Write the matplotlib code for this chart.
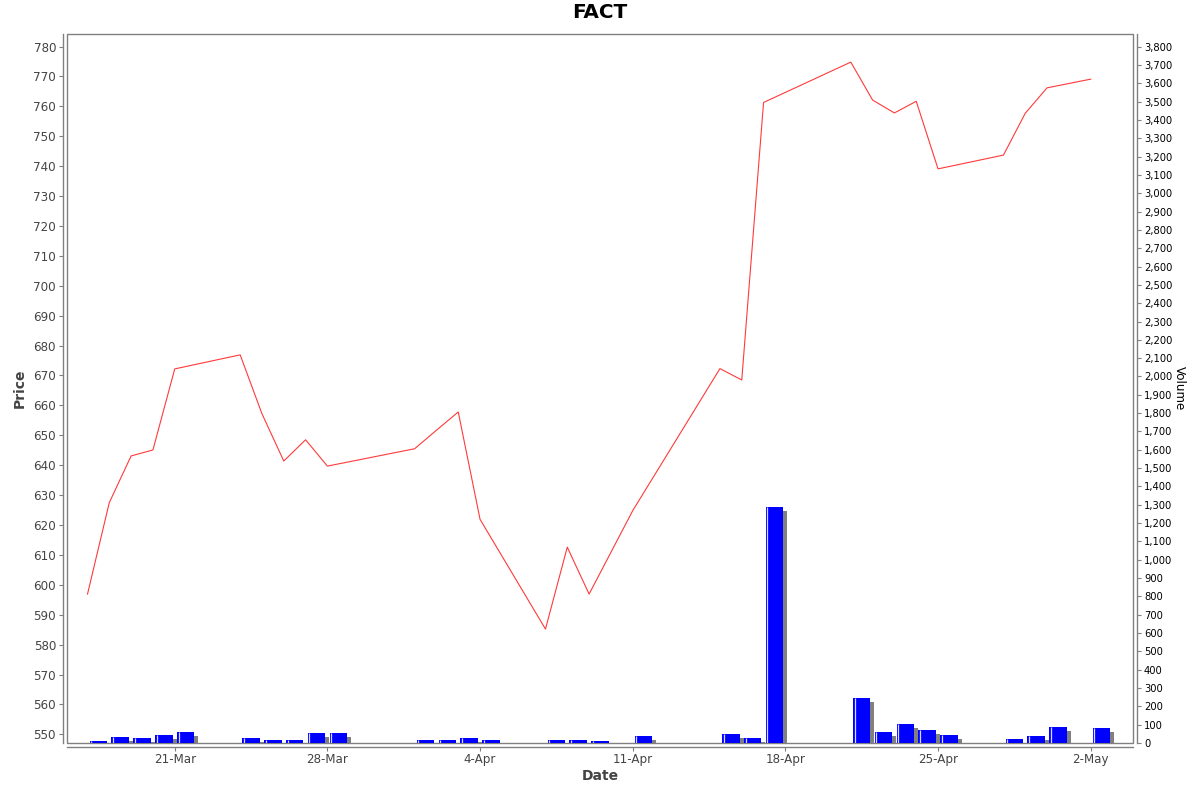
import matplotlib
matplotlib.use('Agg')
import matplotlib.pyplot as plt
import matplotlib.dates as mdates
from matplotlib.patches import Rectangle
from matplotlib.transforms import ScaledTranslation
import pandas as pd

# trading days (year assumed, not shown on chart)
dates = ["2014-03-17", "2014-03-18", "2014-03-19", "2014-03-20", "2014-03-21",
         "2014-03-24", "2014-03-25", "2014-03-26", "2014-03-27", "2014-03-28",
         "2014-04-01", "2014-04-02", "2014-04-03", "2014-04-04",
         "2014-04-07", "2014-04-08", "2014-04-09", "2014-04-11",
         "2014-04-15", "2014-04-16", "2014-04-17",
         "2014-04-21", "2014-04-22", "2014-04-23", "2014-04-24", "2014-04-25",
         "2014-04-28", "2014-04-29", "2014-04-30", "2014-05-02"]
price = [596.9, 627.5, 643.1, 645.1, 672.2,
         676.9, 657.2, 641.4, 648.5, 639.7,
         645.5, 651.7, 657.8, 621.9,
         585.2, 612.6, 596.9, 624.8,
         672.3, 668.5, 761.3,
         774.8, 762.1, 757.8, 761.7, 739.1,
         743.7, 757.7, 766.2, 769.1]
volume = [13, 31, 30, 44, 58,
          26, 19, 15, 55, 55,
          15, 15, 30, 19,
          16, 16, 9, 37,
          48, 30, 1288,
          248, 62, 106, 69, 42,
          24, 37, 86, 80]

title = "FACT"
GRAY = '#808080'
TXT = '#444444'

d = pd.to_datetime(dates)
x = mdates.date2num(d)

fig = plt.figure(figsize=(12, 7.92), dpi=100)
ax = fig.add_axes([67/1200, 1 - 743/792, (1133-67)/1200, (743-34)/792])
ax2 = ax.twinx()

# price line
ax.plot(x, price, color='#ff3a3a', lw=0.8, zorder=3)
ax.set_ylim(547.1, 784.2)
ax.set_xlim(mdates.date2num(pd.Timestamp("2014-03-16")) + 0.06,
            mdates.date2num(pd.Timestamp("2014-05-03")) + 0.94)
ax.set_yticks(range(550, 781, 10))

# volume bars with shadow
shadow = ax2.bar(x + 0.1, volume, width=0.8, align='edge', color=GRAY, lw=0)
off = ScaledTranslation(4/100, -4/100, fig.dpi_scale_trans)
for p in shadow:
    p.set_transform(ax2.transData + off)
ax2.bar(x + 0.1, volume, width=0.8, align='edge', color='#0000ff', lw=0)
ax2.vlines(x + 0.1 + 1.6/21.8, 0, volume, color='#d8d8ff', lw=0.9)
ax2.set_ylim(0, 3869)
ax2.set_yticks(range(0, 3801, 100))
ax2.yaxis.set_major_formatter(matplotlib.ticker.FuncFormatter(lambda v, p: f"{int(v):,}"))

# date ticks
ax.xaxis.set_major_locator(mdates.WeekdayLocator(byweekday=mdates.FR))
ax.xaxis.set_major_formatter(matplotlib.ticker.FuncFormatter(
    lambda v, p: f"{mdates.num2date(v).day}-{mdates.num2date(v).strftime('%b')}"))

# axis styling
for a in (ax, ax2):
    for s in a.spines.values():
        s.set_visible(False)
ax.spines['left'].set_visible(True)
ax.spines['left'].set_position(('outward', 2.9))
ax.spines['bottom'].set_visible(True)
ax.spines['bottom'].set_position(('outward', 2.9))
ax2.spines['right'].set_visible(True)
ax2.spines['right'].set_position(('outward', 2.9))
for s in (ax.spines['left'], ax.spines['bottom'], ax2.spines['right']):
    s.set_color(GRAY)
    s.set_linewidth(1.0)
ax.add_patch(Rectangle((0, 0), 1, 1, transform=ax.transAxes, fill=False,
                       ec=GRAY, lw=1.0, zorder=5, clip_on=False))

ax.tick_params(axis='y', direction='out', length=3, width=0.8, color=GRAY,
               labelsize=8.6, labelcolor=TXT, pad=2)
ax.tick_params(axis='x', direction='out', length=3, width=0.8, color=GRAY,
               labelsize=8.6, labelcolor=TXT, pad=1.5)
ax2.tick_params(axis='y', direction='out', length=3, width=0.8, color=GRAY,
                labelsize=7.2, labelcolor='black', pad=2)

ax.set_ylabel("Price", fontsize=10, fontweight='bold', color=TXT, labelpad=5)
ax.set_xlabel("Date", fontsize=10, fontweight='bold', color=TXT, labelpad=2)
ax2.set_ylabel("Volume", fontsize=8.6, color='black', rotation=270, labelpad=10)
fig.suptitle(title, fontsize=14.4, fontweight='bold', y=1 - 13/792, va='center')

fig.savefig("out.png", dpi=100)
